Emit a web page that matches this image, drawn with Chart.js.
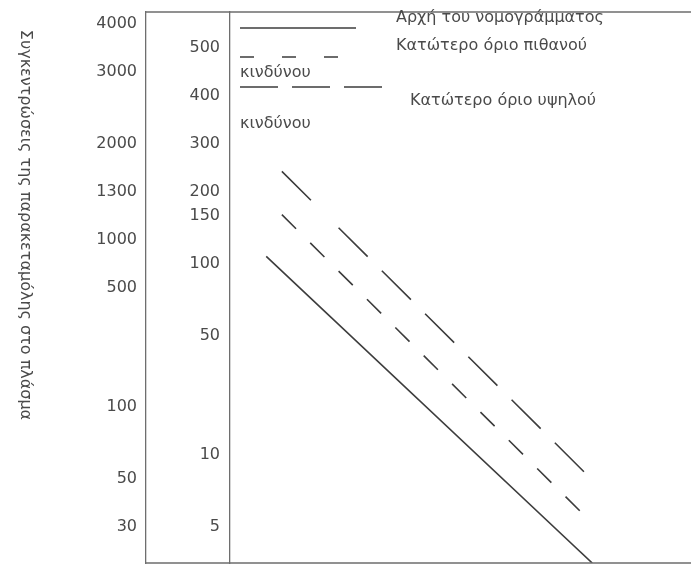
<!DOCTYPE html>
<html>
<head>
<meta charset="utf-8">
<script src="https://cdn.jsdelivr.net/npm/chart.js@4.4.0/dist/chart.umd.min.js"></script>
<style>
  html, body { margin: 0; padding: 0; background: #fff; }
  #wrap { width: 691px; height: 565px; position: relative; }
</style>
</head>
<body>
<div id="wrap"><canvas id="chart"></canvas></div>
<script>
// Άξονας: το σχέδιο είναι στημένο σε "γραμμές κειμένου" (0 = γραμμή του 500)
const outerTickLabels = ['4000', '3000', '2000', '1300', '1000', '500', '100', '50', '30'];
const outerTickRows = [-1, 1, 4, 6, 8, 10, 15, 18, 20];
const innerTickLabels = ['500', '400', '300', '200', '150', '100', '50', '10', '5'];
const innerTickRows = [0, 2, 4, 6, 7, 9, 12, 17, 20];

const seriesNames = ['Αρχή του νομογράμματος', 'Κατώτερο όριο πιθανού κινδύνου', 'Κατώτερο όριο υψηλού κινδύνου'];
const axisTitle = 'Συγκεντρώσεις της παρακεταμόλης στο πλάσμα';

// Γραμμές (ώρες, γραμμή άξονα)
const nomogramHours = [4.2, 24];
const nomogramRows = [8.7, 21.5];
const probableHours = [5.15, 23.55];
const probableRows = [6.96, 19.53];
const highHours = [5.15, 23.6];
const highRows = [5.15, 17.76];

const FONT = '"DejaVu Sans", Verdana, sans-serif';
const TEXT = '#4a4a4a';
const LINE = '#3c3c3c';
const FRAME = '#6e6e6e';

function toPoints(xs, ys) {
    return xs.map((x, i) => ({ x: x, y: ys[i] }));
}

// Πλαίσιο, τίτλος άξονα και υπόμνημα
const decorPlugin = {
    id: 'decor',
    afterDraw(chart) {
        const ctx = chart.ctx;
        const area = chart.chartArea;
        const outer = chart.scales.y2;

        ctx.save();
        ctx.strokeStyle = FRAME;
        ctx.lineWidth = 1.3;
        ctx.beginPath();
        ctx.moveTo(outer.right, area.top);
        ctx.lineTo(chart.width, area.top);
        ctx.moveTo(outer.right, area.bottom);
        ctx.lineTo(chart.width, area.bottom);
        ctx.stroke();

        // τίτλος (διαβάζεται από πάνω προς τα κάτω)
        ctx.fillStyle = TEXT;
        ctx.font = '16px ' + FONT;
        ctx.translate(25, 225);
        ctx.rotate(Math.PI / 2);
        ctx.textAlign = 'center';
        ctx.textBaseline = 'middle';
        ctx.fillText(axisTitle, 0, 0);
        ctx.restore();

        // υπόμνημα
        ctx.save();
        ctx.strokeStyle = LINE;
        ctx.lineWidth = 1.6;
        ctx.fillStyle = TEXT;
        ctx.font = '16px ' + FONT;
        ctx.textBaseline = 'middle';

        ctx.setLineDash([]);
        ctx.beginPath(); ctx.moveTo(240, 28); ctx.lineTo(356, 28); ctx.stroke();
        ctx.fillText(seriesNames[0], 396, 18);

        const p = seriesNames[1].lastIndexOf(' ');
        ctx.setLineDash([14, 28]);
        ctx.beginPath(); ctx.moveTo(240, 57); ctx.lineTo(342, 57); ctx.stroke();
        ctx.fillText(seriesNames[1].slice(0, p), 396, 46);
        ctx.fillText(seriesNames[1].slice(p + 1), 240, 73);

        const q = seriesNames[2].lastIndexOf(' ');
        ctx.setLineDash([38, 14]);
        ctx.beginPath(); ctx.moveTo(240, 87); ctx.lineTo(383, 87); ctx.stroke();
        ctx.fillText(seriesNames[2].slice(0, q), 410, 101);
        ctx.fillText(seriesNames[2].slice(q + 1), 240, 124);
        ctx.restore();
    }
};

function rowAxis(rows, labels, width, padding, weight) {
    return {
        type: 'linear',
        position: 'left',
        weight: weight,
        reverse: true,
        min: -1.5,
        max: 21.5,
        afterBuildTicks: scale => { scale.ticks = rows.map(v => ({ value: v })); },
        afterFit: scale => {
            scale.width = width;
            scale.paddingTop = 0;
            scale.paddingBottom = 0;
        },
        grid: { display: false, drawTicks: false },
        border: { display: true, color: FRAME, width: 1.3 },
        ticks: {
            padding: padding,
            color: TEXT,
            font: { family: FONT, size: 16 },
            autoSkip: false,
            callback: value => labels[rows.indexOf(value)]
        }
    };
}

new Chart(document.getElementById('chart'), {
    type: 'line',
    data: {
        datasets: [
            {
                label: seriesNames[0],
                data: toPoints(nomogramHours, nomogramRows),
                borderColor: LINE,
                borderWidth: 1.6,
                pointRadius: 0
            },
            {
                label: seriesNames[1],
                data: toPoints(probableHours, probableRows),
                borderColor: LINE,
                borderWidth: 1.6,
                borderDash: [20, 20],
                pointRadius: 0
            },
            {
                label: seriesNames[2],
                data: toPoints(highHours, highRows),
                borderColor: LINE,
                borderWidth: 1.6,
                borderDash: [41, 39, 41, 20, 41, 20, 41, 20, 41, 20, 41, 20, 41, 20],
                pointRadius: 0
            }
        ]
    },
    options: {
        responsive: true,
        maintainAspectRatio: false,
        animation: false,
        layout: { padding: { top: 12, right: 0, bottom: 2, left: 0 } },
        scales: {
            x: { type: 'linear', min: 2, max: 30, display: false },
            y: rowAxis(innerTickRows, innerTickLabels, 84, 10, 0),
            y2: rowAxis(outerTickRows, outerTickLabels, 146, 9, 1)
        },
        plugins: {
            legend: { display: false },
            tooltip: { enabled: false }
        }
    },
    plugins: [decorPlugin]
});
</script>
</body>
</html>
